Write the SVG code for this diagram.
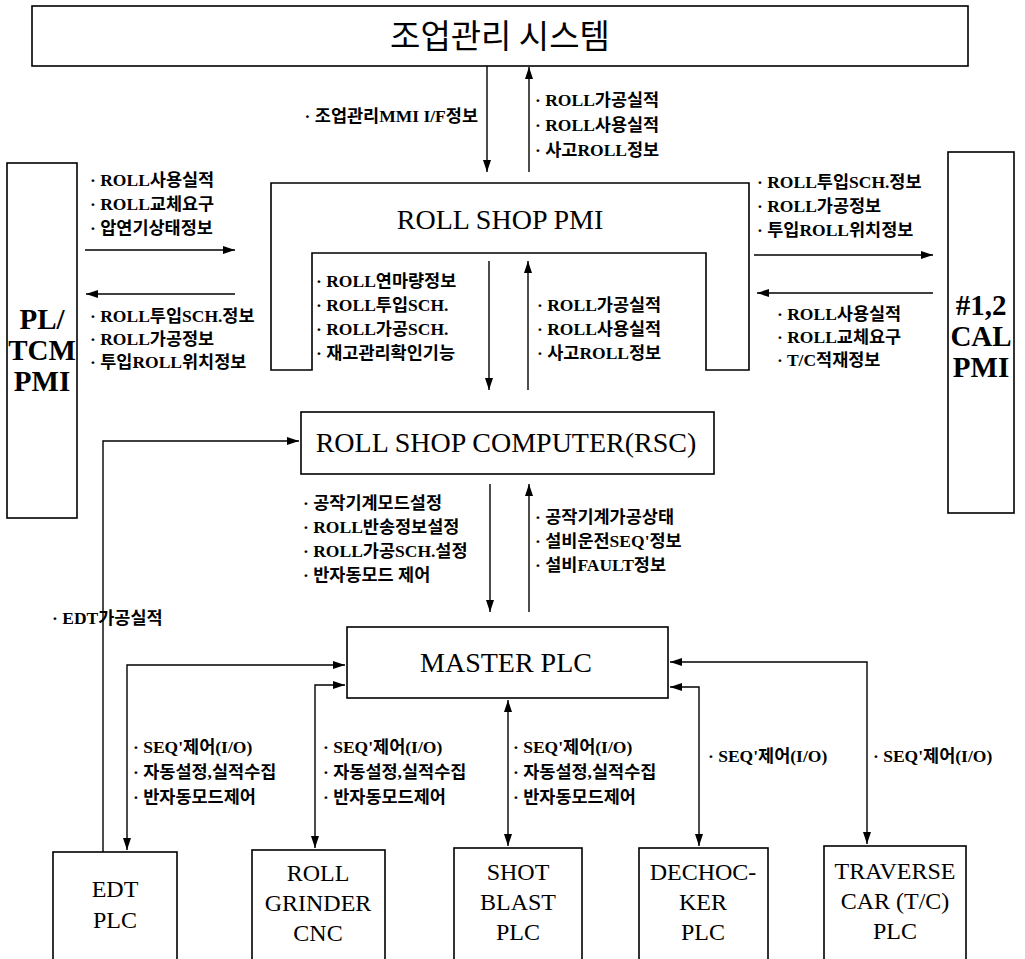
<svg xmlns="http://www.w3.org/2000/svg" width="1025" height="959" viewBox="0 0 1025 959">
<style>
.box{fill:#fff;stroke:#000;stroke-width:1.6}
.ln{fill:none;stroke:#000;stroke-width:1.4}
.t{font-family:'Liberation Serif','Times New Roman','DejaVu Serif','Noto Sans CJK KR',serif;font-size:17.5px;font-weight:bold;fill:#000}
.n{font-family:'Liberation Serif','Times New Roman','DejaVu Serif',serif;font-size:28px;fill:#000;text-anchor:middle}
.s{font-family:'Liberation Serif','Times New Roman','DejaVu Serif',serif;font-size:24px;fill:#000;text-anchor:middle}
.nb{font-family:'Liberation Serif','Times New Roman','DejaVu Serif',serif;font-size:29px;font-weight:bold;fill:#000;text-anchor:middle}
.k{font-family:'Noto Sans CJK KR',sans-serif;font-size:33px;font-weight:normal;fill:#000;text-anchor:middle}
</style>
<defs>
<marker id="a" viewBox="0 0 12 8" refX="12" refY="4" markerWidth="12" markerHeight="8" markerUnits="userSpaceOnUse" orient="auto-start-reverse"><path d="M0,0 L12,4 L0,8 z" fill="#000"/></marker>
</defs>
<rect width="1025" height="959" fill="#fff"/>
<g id="top"><rect class="box" x="32" y="6" width="936" height="60"/><text class="k" x="500" y="48">조업관리 시스템</text></g>
<g id="pmi"><path class="box" d="M271,183 H749 V370 H706 V253 H312 V370 H271 Z"/><text class="n" x="500" y="229">ROLL SHOP PMI</text></g>
<g id="pltcm"><rect class="box" x="7" y="163" width="70" height="355"/><text class="nb" x="42" y="329">PL/</text><text class="nb" x="42" y="360">TCM</text><text class="nb" x="42" y="391">PMI</text></g>
<g id="cal"><rect class="box" x="948" y="152" width="66" height="361"/><text class="nb" x="981" y="315">#1,2</text><text class="nb" x="981" y="346">CAL</text><text class="nb" x="981" y="377">PMI</text></g>
<g id="rsc"><rect class="box" x="301" y="412" width="413" height="62"/><text class="n" x="506" y="452">ROLL SHOP COMPUTER(RSC)</text></g>
<g id="master"><rect class="box" x="347" y="627" width="321" height="71"/><text class="n" x="506" y="672">MASTER PLC</text></g>
<g id="edt"><rect class="box" x="53" y="852" width="124" height="120"/><text class="s" x="115" y="897">EDT</text><text class="s" x="115" y="928">PLC</text></g>
<g id="grinder"><rect class="box" x="252" y="850" width="133" height="120"/><text class="s" x="318" y="881">ROLL</text><text class="s" x="318" y="911">GRINDER</text><text class="s" x="318" y="941">CNC</text></g>
<g id="shot"><rect class="box" x="454" y="848" width="128" height="120"/><text class="s" x="518" y="880">SHOT</text><text class="s" x="518" y="910">BLAST</text><text class="s" x="518" y="940">PLC</text></g>
<g id="dechocker"><rect class="box" x="639" y="848" width="129" height="120"/><text class="s" x="703" y="880">DECHOC-</text><text class="s" x="703" y="910">KER</text><text class="s" x="703" y="940">PLC</text></g>
<g id="traverse"><rect class="box" x="824" y="846" width="142" height="120"/><text class="s" x="895" y="879">TRAVERSE</text><text class="s" x="895" y="909">CAR (T/C)</text><text class="s" x="895" y="939">PLC</text></g>
<g id="connectors">
<line class="ln" x1="487" y1="66" x2="487" y2="172" marker-end="url(#a)"/>
<line class="ln" x1="529" y1="172" x2="529" y2="67" marker-end="url(#a)"/>
<line class="ln" x1="85" y1="250" x2="235" y2="250" marker-end="url(#a)"/>
<line class="ln" x1="235" y1="294" x2="86" y2="294" marker-end="url(#a)"/>
<line class="ln" x1="754" y1="255" x2="933" y2="255" marker-end="url(#a)"/>
<line class="ln" x1="933" y1="293" x2="757" y2="293" marker-end="url(#a)"/>
<line class="ln" x1="489" y1="261" x2="489" y2="390" marker-end="url(#a)"/>
<line class="ln" x1="528" y1="390" x2="528" y2="261" marker-end="url(#a)"/>
<polyline class="ln" points="103,852 103,441 299,441" marker-end="url(#a)"/>
<line class="ln" x1="490" y1="484" x2="490" y2="612" marker-end="url(#a)"/>
<line class="ln" x1="529" y1="612" x2="529" y2="484" marker-end="url(#a)"/>
<polyline class="ln" points="127,850 127,665 345,665" marker-start="url(#a)" marker-end="url(#a)"/>
<polyline class="ln" points="315,848 315,685 345,685" marker-start="url(#a)" marker-end="url(#a)"/>
<line class="ln" x1="508" y1="700" x2="508" y2="846" marker-start="url(#a)" marker-end="url(#a)"/>
<polyline class="ln" points="670,687 699,687 699,846" marker-start="url(#a)" marker-end="url(#a)"/>
<polyline class="ln" points="670,662 867,662 867,844" marker-start="url(#a)" marker-end="url(#a)"/>
</g>
<g id="labels">
<text class="t" x="478" y="122" text-anchor="end">· 조업관리MMI I/F정보</text>
<text class="t" x="535" y="106">· ROLL가공실적</text>
<text class="t" x="535" y="131">· ROLL사용실적</text>
<text class="t" x="535" y="156">· 사고ROLL정보</text>
<text class="t" x="90" y="186">· ROLL사용실적</text>
<text class="t" x="90" y="210">· ROLL교체요구</text>
<text class="t" x="90" y="234">· 압연기상태정보</text>
<text class="t" x="90" y="322">· ROLL투입SCH.정보</text>
<text class="t" x="90" y="345">· ROLL가공정보</text>
<text class="t" x="90" y="368">· 투입ROLL위치정보</text>
<text class="t" x="316" y="287">· ROLL연마량정보</text>
<text class="t" x="316" y="311">· ROLL투입SCH.</text>
<text class="t" x="316" y="335">· ROLL가공SCH.</text>
<text class="t" x="316" y="359">· 재고관리확인기능</text>
<text class="t" x="537" y="311">· ROLL가공실적</text>
<text class="t" x="537" y="335">· ROLL사용실적</text>
<text class="t" x="537" y="359">· 사고ROLL정보</text>
<text class="t" x="757" y="188">· ROLL투입SCH.정보</text>
<text class="t" x="757" y="212">· ROLL가공정보</text>
<text class="t" x="757" y="236">· 투입ROLL위치정보</text>
<text class="t" x="777" y="320">· ROLL사용실적</text>
<text class="t" x="777" y="343">· ROLL교체요구</text>
<text class="t" x="777" y="366">· T/C적재정보</text>
<text class="t" x="303" y="509">· 공작기계모드설정</text>
<text class="t" x="303" y="533">· ROLL반송정보설정</text>
<text class="t" x="303" y="557">· ROLL가공SCH.설정</text>
<text class="t" x="303" y="581">· 반자동모드 제어</text>
<text class="t" x="535" y="523">· 공작기계가공상태</text>
<text class="t" x="535" y="547">· 설비운전SEQ'정보</text>
<text class="t" x="535" y="571">· 설비FAULT정보</text>
<text class="t" x="52" y="624">· EDT가공실적</text>
<text class="t" x="133" y="753">· SEQ'제어(I/O)</text>
<text class="t" x="133" y="778">· 자동설정,실적수집</text>
<text class="t" x="133" y="803">· 반자동모드제어</text>
<text class="t" x="323" y="753">· SEQ'제어(I/O)</text>
<text class="t" x="323" y="778">· 자동설정,실적수집</text>
<text class="t" x="323" y="803">· 반자동모드제어</text>
<text class="t" x="513" y="753">· SEQ'제어(I/O)</text>
<text class="t" x="513" y="778">· 자동설정,실적수집</text>
<text class="t" x="513" y="803">· 반자동모드제어</text>
<text class="t" x="708" y="762">· SEQ'제어(I/O)</text>
<text class="t" x="873" y="762">· SEQ'제어(I/O)</text>
</g>
</svg>
